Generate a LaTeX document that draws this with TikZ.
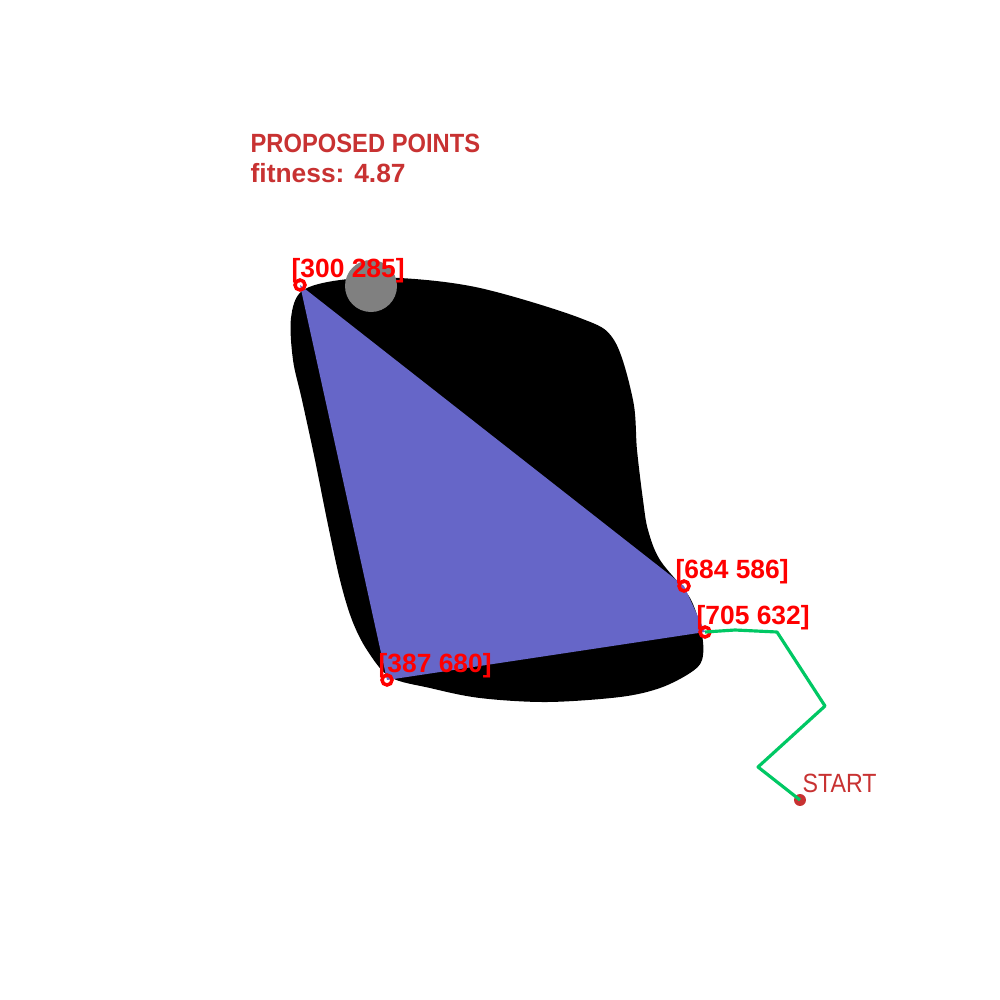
\documentclass[tikz,border=0pt]{standalone}
\usepackage{fontspec}
\setmainfont{Liberation Sans}
\usetikzlibrary{positioning}
\definecolor{hullblue}{RGB}{102,102,200}
\definecolor{titlered}{RGB}{200,50,50}
\definecolor{markred}{RGB}{255,0,0}
\definecolor{routegreen}{RGB}{0,200,100}
\definecolor{obstgray}{RGB}{128,128,128}
\tikzset{
    ptmark/.style={draw=markred,line width=1pt},
    ptlabel/.style={anchor=base west,inner sep=0pt,text=markred,font=\fontsize{7.5}{9}\selectfont\bfseries},
    titletext/.style={anchor=base west,inner sep=0pt,text=titlered,font=\fontsize{7.5}{9}\selectfont\bfseries},
    starttext/.style={anchor=base west,inner sep=0pt,text=titlered,font=\fontsize{7.5}{9}\selectfont},
    startdot/.style={circle,fill=titlered,inner sep=0pt,minimum size=3.4pt},
    routeline/.style={draw=routegreen,line width=0.9pt,line join=round}
}

\begin{document}
\begin{tikzpicture}[x=0.01cm,y=-0.01cm]
            \fill[white] (0,0) rectangle (1000,1000);
            \useasboundingbox (0,0) rectangle (1000,1000);
            % obstacle
            \fill[black] plot[smooth cycle,tension=0.55] coordinates {
                (291,318) (302,291) (340,280) (400,278) (480,288) (580,318)
                (614,340) (633,400) (637,450) (643,500) (648,530) (660,560)
                (690,598) (702,635) (702,660) (690,673) (660,688) (620,697)
                (547,702) (480,698) (430,688) (390,677) (367,650) (352,620)
                (340,580) (327,520) (315,460) (302,400) (293,360)};
            \fill[obstgray] (371,286) circle[radius=26];
            % proposed points
            \coordinate (p1) at (300,285);
            \coordinate (p2) at (684,586);
            \coordinate (p3) at (705,632);
            \coordinate (p4) at (387,680);
            \fill[hullblue] (p1) -- (p2) -- (p3) -- (p4) -- cycle;
            \foreach \p in {p1,p2,p3,p4}
                \draw[ptmark] (\p) circle[radius=5];
            \node[ptlabel] (lab1) at (291,277) {[300 285]};
            \node[ptlabel] (lab2) at (675,578) {[684 586]};
            \node[ptlabel] (lab3) at (696,624) {[705 632]};
            \node[ptlabel] (lab4) at (378,672) {[387 680]};
            % route from start
            \node[startdot] (start) at (800,800) {};
            \node[starttext,xscale=0.88] (startlab) at (802,792) {START};
            \coordinate (r1) at (735,630);
            \coordinate (r2) at (777,632);
            \coordinate (r3) at (825,706);
            \coordinate (r4) at (758,767);
            \draw[routeline] (p3) -- (r1) -- (r2) -- (r3) -- (r4) -- (start.center);
            % header
            \node[titletext,xscale=0.9] (title) at (250,152) {PROPOSED POINTS};
            \node[titletext] (fit) at (250,182) {fitness: 4.87};
\end{tikzpicture}
\end{document}
